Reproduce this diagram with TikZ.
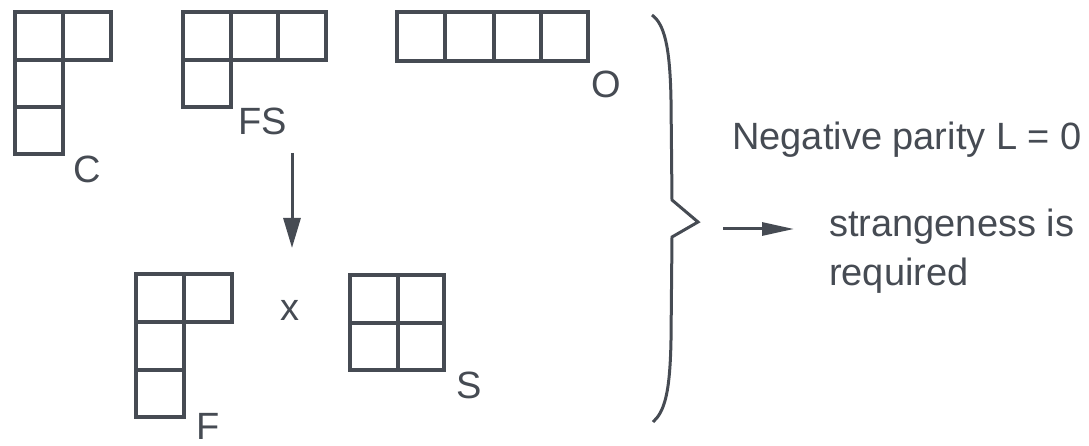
\documentclass[tikz,border=0pt]{standalone}
\usepackage{fontspec}
\setmainfont{Liberation Sans}
\usetikzlibrary{arrows.meta}
\definecolor{ink}{HTML}{464B53}
\begin{document}
\begin{tikzpicture}[x=1pt,y=-1pt,
  cell/.style={draw=ink,line width=3.3pt},
  lbl/.style={text=ink,font=\fontsize{38}{44}\selectfont,inner sep=0pt,anchor=base},
  txt/.style={text=ink,font=\fontsize{38}{48}\selectfont,inner sep=0pt,anchor=base west},
  conn/.style={draw=ink,line width=3pt}]
\useasboundingbox (0,0) rectangle (1089,446);
% C tableau
\draw[cell] (15,12) rectangle (63,60) (63,12) rectangle (111,60)
  (15,60) rectangle (63,107) (15,107) rectangle (63,154);
% FS tableau
\draw[cell] (183,12) rectangle (231,60) (231,12) rectangle (278,60) (278,12) rectangle (326,60)
  (183,60) rectangle (231,107);
% O tableau
\draw[cell] (397,12) rectangle (445,61) (445,12) rectangle (494,61)
  (494,12) rectangle (541,61) (541,12) rectangle (588,61);
% F tableau
\draw[cell] (136,274) rectangle (184,322) (184,274) rectangle (232,322)
  (136,322) rectangle (184,370) (136,370) rectangle (184,417);
% S tableau
\draw[cell] (350,275) rectangle (398,323) (398,275) rectangle (444,323)
  (350,323) rectangle (398,370) (398,323) rectangle (444,370);
% labels
\node[lbl] (lC) at (87,183) {C};
\node[lbl] (lFS) at (263,135) {FS};
\node[lbl] (lO) at (606,98) {O};
\node[lbl] (lx) at (290,320) {x};
\node[lbl] (lS) at (469,398) {S};
\node[lbl] (lF) at (208,439) {F};
% arrow FS -> F x S
\coordinate (a1) at (292,153);
\coordinate (a2) at (292,248);
\draw[conn,-{Triangle[length=30pt,width=17pt]}] (a1) -- (a2);
% brace
\draw[ink,line width=3pt,line join=miter]
  (652,15) .. controls (664,24) and (670,45) .. (671,100) -- (672,200) -- (698,222)
  -- (672,237) -- (671,340) .. controls (670,395) and (664,412) .. (653,422);
\coordinate (b1) at (723,229);
\coordinate (b2) at (794,229);
\draw[conn,-{Triangle[length=32pt,width=13pt]}] (b1) -- (b2);
% texts
\node[txt] (t1) at (732,150) {Negative parity L = 0};
\node[txt] (t2) at (829,237) {strangeness is};
\node[txt] (t3) at (829,285) {required};
\end{tikzpicture}
\end{document}
